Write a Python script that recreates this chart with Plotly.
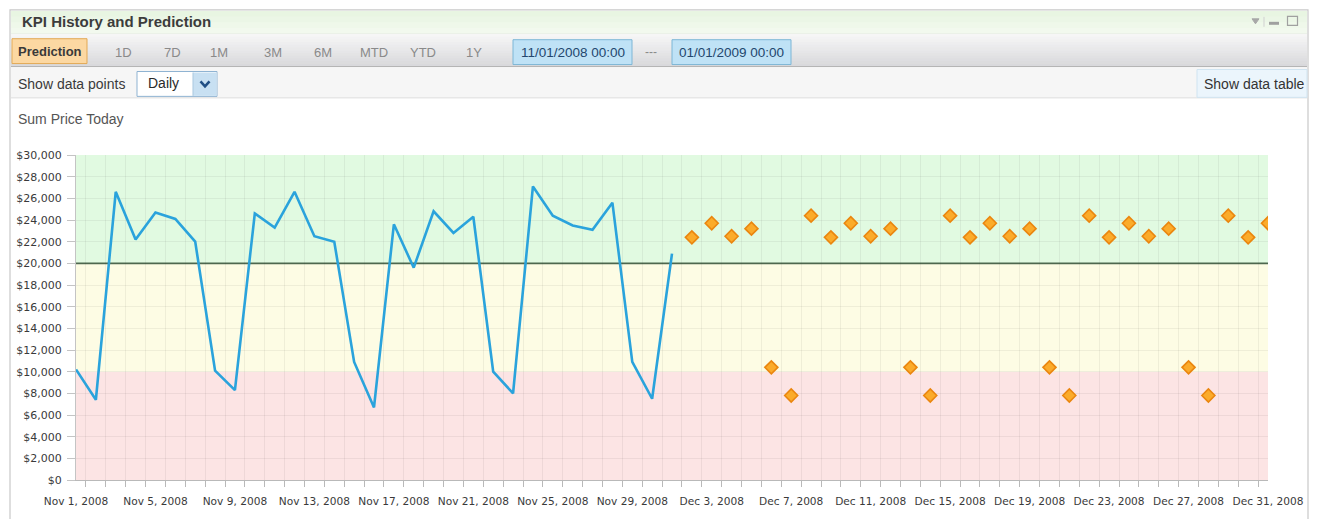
import pandas as pd
import plotly.graph_objects as go

# ---- data -------------------------------------------------------------
history_dates = pd.date_range("2008-11-01", "2008-12-01", freq="D")
history_values = [10200, 7400, 26600, 22200, 24700, 24100, 22000, 10100, 8300,
                  24600, 23300, 26600, 22500, 22000, 10900, 6700, 23600, 19600,
                  24800, 22800, 24300, 10000, 8000, 27100, 24400, 23500, 23100,
                  25600, 10900, 7500, 20900]

prediction_dates = pd.date_range("2008-12-02", "2008-12-31", freq="D")
prediction_values = [22400, 23700, 22500, 23200, 10400, 7800, 24400,
                     22400, 23700, 22500, 23200, 10400, 7800, 24400,
                     22400, 23700, 22500, 23200, 10400, 7800, 24400,
                     22400, 23700, 22500, 23200, 10400, 7800, 24400,
                     22400, 23700]

target_value = 20000
band_edges = [0, 10000, 20000, 30000]
band_colors = ["#fce4e4", "#fdfce4", "#e1fae1"]

x_tick_dates = ["2008-11-01", "2008-11-05", "2008-11-09", "2008-11-13",
                "2008-11-17", "2008-11-21", "2008-11-25", "2008-11-29",
                "2008-12-03", "2008-12-07", "2008-12-11", "2008-12-15",
                "2008-12-19", "2008-12-23", "2008-12-27", "2008-12-31"]
x_tick_labels = ["Nov 1, 2008", "Nov 5, 2008", "Nov 9, 2008", "Nov 13, 2008",
                 "Nov 17, 2008", "Nov 21, 2008", "Nov 25, 2008", "Nov 29, 2008",
                 "Dec 3, 2008", "Dec 7, 2008", "Dec 11, 2008", "Dec 15, 2008",
                 "Dec 19, 2008", "Dec 23, 2008", "Dec 27, 2008", "Dec 31, 2008"]
y_tick_values = list(range(0, 30001, 2000))
y_tick_labels = ["$0", "$2,000", "$4,000", "$6,000", "$8,000", "$10,000",
                 "$12,000", "$14,000", "$16,000", "$18,000", "$20,000",
                 "$22,000", "$24,000", "$26,000", "$28,000", "$30,000"]

range_buttons = ["1D", "7D", "1M", "3M", "6M", "MTD", "YTD", "1Y"]
range_button_x = [123, 172, 219, 273, 323, 374, 423, 474]
date_from = "11/01/2008 00:00"
date_to = "01/01/2009 00:00"

# ---- page geometry (pixels) ------------------------------------------
FIG_W, FIG_H = 1319, 519
PL, PR, PT, PB = 76, 1268, 155, 482          # plot area box
PW, PH = PR - PL, PB - PT

UI = "Liberation Sans, Arial, sans-serif"
AX = "DejaVu Sans, Verdana, sans-serif"


def px(x):
    return (x - PL) / PW


def py(y):
    return (PB - y) / PH


shapes = []
annotations = []


def box(x0, y0, x1, y1, fill=None, line=None, lw=1, layer="above"):
    shapes.append(dict(type="rect", xref="paper", yref="paper",
                       x0=px(x0), x1=px(x1), y0=py(y1), y1=py(y0),
                       fillcolor=fill or "rgba(0,0,0,0)",
                       line=dict(color=line or "rgba(0,0,0,0)", width=lw if line else 0),
                       layer=layer))


def hline(x0, x1, y, color, lw=1):
    shapes.append(dict(type="line", xref="paper", yref="paper",
                       x0=px(x0), x1=px(x1), y0=py(y), y1=py(y),
                       line=dict(color=color, width=lw)))


def path(points, color, lw=1, fill=None, closed=False):
    d = "M " + " L ".join(f"{px(a):.5f},{py(b):.5f}" for a, b in points)
    if closed:
        d += " Z"
    shapes.append(dict(type="path", xref="paper", yref="paper", path=d,
                       line=dict(color=color, width=lw),
                       fillcolor=fill or "rgba(0,0,0,0)"))


def text(x, y, s, size=14, color="#333", anchor="left", bold=False, font=UI):
    annotations.append(dict(xref="paper", yref="paper", x=px(x), y=py(y),
                            text=f"<b>{s}</b>" if bold else s, showarrow=False,
                            xanchor=anchor, yanchor="middle",
                            font=dict(family=font, size=size, color=color)))


def gradient(x0, y0, x1, y1, top, bottom, steps):
    def mix(a, b, t):
        return "#" + "".join(f"{round(int(a[i:i+2], 16) * (1 - t) + int(b[i:i+2], 16) * t):02x}"
                             for i in (1, 3, 5))
    h = (y1 - y0) / steps
    for i in range(steps):
        box(x0, y0 + i * h, x1, y0 + (i + 1) * h + 0.6, fill=mix(top, bottom, i / max(steps - 1, 1)))


# ---- portlet frame ----------------------------------------------------
gradient(11, 10, 1307, 33, "#e8f5e2", "#f2f9ee", 4)
hline(11, 1307, 33, "#e4ece0")
gradient(11, 33, 1307, 66, "#f6f6f6", "#d9d9dc", 12)
hline(11, 1307, 66, "#b4b4b4")
box(11, 67, 1307, 97, fill="#f6f6f6")
hline(11, 1307, 97.5, "#dcdcdc")
box(10, 9, 1308, 540, line="#c9c9c9", lw=1.2)

text(20, 21, "KPI History and Prediction", size=15, color="#3c3c3c", bold=True)

# window controls
path([(1252, 18), (1259, 18), (1255.5, 23)], "#a8a8a8", lw=1, fill="#a8a8a8", closed=True)
path([(1264, 16), (1264, 26)], "#d0d0d0", lw=1)
box(1269, 21, 1279, 24, fill="#a0a0a0")
box(1287.5, 15.5, 1297.5, 24.5, line="#a0a0a0", lw=1.2)

# toolbar
box(12, 38, 87, 63, fill="#fcd8a2", line="#e3a955", lw=1)
text(49.5, 51, "Prediction", size=13, color="#3a3a3a", anchor="center", bold=True)
for lab, cx in zip(range_buttons, range_button_x):
    text(cx, 51.5, lab, size=13, color="#8a8a8a", anchor="center")
for x0, x1, s in [(513, 632, date_from), (672, 791, date_to)]:
    box(x0, 39, x1, 64, fill="#bfe2f6", line="#7db6d6", lw=1)
    text((x0 + x1) / 2, 51.5, s, size=13.5, color="#23476e", anchor="center")
text(651, 51.5, "---", size=12, color="#8a8a8a", anchor="center")

# data-point selector row
text(16, 84, "Show data points", size=14, color="#3a3a3a")
box(137, 71, 217, 96, fill="#ffffff", line="#8fb3d2", lw=1)
box(193, 72, 216.5, 95.5, fill="#c8e0f2")
path([(193, 72), (193, 95.5)], "#a9c8e0", lw=1)
path([(200.5, 81), (205, 86), (209.5, 81)], "#214f85", lw=2.6)
text(146, 83, "Daily", size=14, color="#2a2a2a")

box(1197, 69, 1307, 97, fill="#ebf5fc", line="#d0e4f1", lw=1)
text(1202, 84, "Show data table", size=14, color="#333333")

text(16, 119, "Sum Price Today", size=14, color="#555555")

# ---- KPI bands and target line ---------------------------------------
for lo, hi, col in zip(band_edges[:-1], band_edges[1:], band_colors):
    shapes.append(dict(type="rect", xref="x domain", yref="y",
                       x0=0, x1=1, y0=lo, y1=hi, fillcolor=col,
                       line=dict(width=0), layer="below"))
shapes.append(dict(type="line", xref="x domain", yref="y", x0=0, x1=1,
                   y0=target_value, y1=target_value,
                   line=dict(color="#4f6b50", width=1.6), layer="below"))

# ---- traces -------------------------------------------------------------
fig = go.Figure()
fig.add_trace(go.Scatter(
    x=history_dates, y=history_values, mode="lines",
    line=dict(color="#2aa3dc", width=2.6), name="History", hoverinfo="skip"))
fig.add_trace(go.Scatter(
    x=prediction_dates, y=prediction_values, mode="markers",
    marker=dict(symbol="diamond", size=10, color="#fbab2a",
                line=dict(color="#ea860f", width=1.6)),
    name="Prediction", hoverinfo="skip"))

fig.update_layout(
    width=FIG_W, height=FIG_H,
    margin=dict(l=PL, r=FIG_W - PR, t=PT, b=FIG_H - PB, pad=0),
    paper_bgcolor="#ffffff", plot_bgcolor="#ffffff",
    showlegend=False, hovermode=False,
    shapes=shapes, annotations=annotations,
    xaxis=dict(
        type="date", range=["2008-11-01", "2008-12-31"], fixedrange=True,
        tickmode="array", tickvals=x_tick_dates, ticktext=x_tick_labels,
        ticks="outside", ticklen=6, tickcolor="rgba(0,0,0,0)",
        ticklabelstandoff=5,
        tickfont=dict(family=AX, size=10.6, color="#3a3a3a"),
        showgrid=False, zeroline=False,
        showline=True, linecolor="#b9b9b9", linewidth=1,
        minor=dict(tick0="2008-11-01 12:00", dtick=86400000,
                   ticks="outside", ticklen=6, tickcolor="#b9b9b9",
                   showgrid=True, gridcolor="rgba(60,60,60,0.07)", gridwidth=1),
    ),
    yaxis=dict(
        range=[0, 30000], fixedrange=True,
        tickmode="array", tickvals=y_tick_values, ticktext=y_tick_labels,
        ticks="outside", ticklen=8, tickcolor="#c4c4c4",
        ticklabelstandoff=3,
        tickfont=dict(family=AX, size=11, color="#3a3a3a"),
        showgrid=True, gridcolor="rgba(60,60,60,0.07)", gridwidth=1,
        zeroline=False, showline=True, linecolor="#c4c4c4", linewidth=1,
    ),
)

fig.write_html("out.html")
